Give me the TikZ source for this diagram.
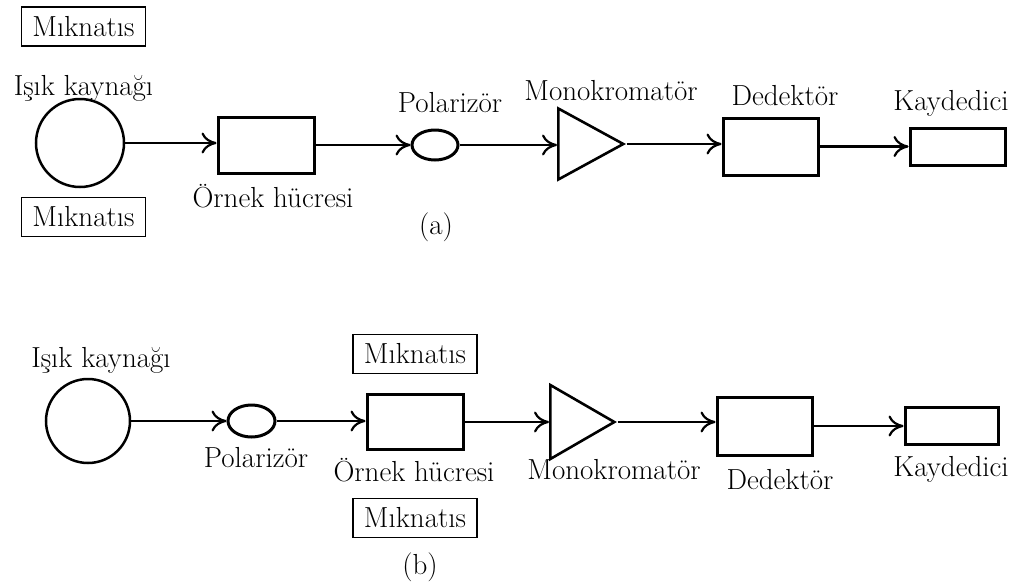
\documentclass[tikz,border=0pt]{standalone}
\usepackage{fontspec}
\usetikzlibrary{arrows.meta,shapes.geometric}
\newcommand{\yazi}{\fontsize{29}{33}\selectfont}
\tikzset{every picture/.style={line width=2.2pt}}
\tikzset{
  blok/.style={draw,line width=3pt,inner sep=0pt},
  ucgen/.style={draw,line width=2.6pt,isosceles triangle,isosceles triangle stretches,inner sep=0pt,anchor=lower side},
  miknatis/.style={draw,line width=1.2pt,minimum width=124pt,minimum height=39pt,inner sep=0pt,font=\yazi},
  etiket/.style={inner sep=0pt,anchor=base,font=\yazi},
  ok/.style={-{To[length=15pt,width=21pt]},line width=2.2pt}
}

\begin{document}
\begin{tikzpicture}[x=1pt,y=1pt,yscale=-1]
\useasboundingbox (0,0) rectangle (1023,584);

%(a)
% Shapes
\node [blok,circle,line width=2.5pt,minimum size=88pt] (kaynakA) at (80,143) {};
\node [blok,minimum width=96pt,minimum height=56pt] (ornekA) at (266,145) {};
\node [blok,ellipse,minimum width=46pt,minimum height=30pt] (polA) at (435,145) {};
\node [ucgen,minimum width=71pt,minimum height=65pt] (monoA) at (557,144) {};
\node [blok,minimum width=95pt,minimum height=57pt] (dedA) at (770.5,146.5) {};
\node [blok,minimum width=95pt,minimum height=37pt] (kayA) at (957.5,146.5) {};
% Straight Lines
\draw [ok] (kaynakA.east) -- (kaynakA.east -| ornekA.west);
\draw [ok] (ornekA.east) -- (ornekA.east -| polA.west);
\draw [ok] (polA.east) -- (polA.east -| monoA.lower side);
\draw [ok] (monoA.apex) -- (monoA.apex -| dedA.west);
\draw [ok] (dedA.east) -- (dedA.east -| kayA.west);
% Text Node
\node [miknatis] (mikAust) at (83.5,26.5) {Mıknatıs};
\node [miknatis] (mikAalt) at (83.5,217) {Mıknatıs};
\node [etiket] (isikA) at (83.5,95) {Işık kaynağı};
\node [etiket] (ornekYaziA) at (273,207) {Örnek hücresi};
\node [etiket] (polYaziA) at (450,112) {Polarizör};
\node [etiket] (monoYaziA) at (611,100) {Monokromatör};
\node [etiket] (dedYaziA) at (785,105) {Dedektör};
\node [etiket] (kayYaziA) at (951,110) {Kaydedici};
\node [font=\yazi,inner sep=0pt] (etiketA) at (436,227) {(a)};

%(b)
% Shapes
\node [blok,circle,line width=2.5pt,minimum size=84pt] (kaynakB) at (88,421) {};
\node [blok,ellipse,minimum width=47pt,minimum height=32pt] (polB) at (251.5,421) {};
\node [blok,minimum width=96pt,minimum height=55pt] (ornekB) at (415,422) {};
\node [ucgen,minimum width=74pt,minimum height=64pt] (monoB) at (549,422) {};
\node [blok,minimum width=95pt,minimum height=58pt] (dedB) at (764.5,426) {};
\node [blok,minimum width=93pt,minimum height=37pt] (kayB) at (951.5,426) {};
% Straight Lines
\draw [ok] (kaynakB.east) -- (kaynakB.east -| polB.west);
\draw [ok] (polB.east) -- (polB.east -| ornekB.west);
\draw [ok] (ornekB.east) -- (ornekB.east -| monoB.lower side);
\draw [ok] (monoB.apex) -- (monoB.apex -| dedB.west);
\draw [ok] (dedB.east) -- (dedB.east -| kayB.west);
% Text Node
\node [etiket] (isikB) at (101,367) {Işık kaynağı};
\node [miknatis] (mikBust) at (415,354) {Mıknatıs};
\node [miknatis] (mikBalt) at (415,518) {Mıknatıs};
\node [etiket] (polYaziB) at (256,467) {Polarizör};
\node [etiket] (ornekYaziB) at (414,481) {Örnek hücresi};
\node [etiket] (monoYaziB) at (614,479) {Monokromatör};
\node [etiket] (dedYaziB) at (780,489) {Dedektör};
\node [etiket] (kayYaziB) at (951,476) {Kaydedici};
\node [font=\yazi,inner sep=0pt] (etiketB) at (420,567) {(b)};

\end{tikzpicture}
\end{document}
